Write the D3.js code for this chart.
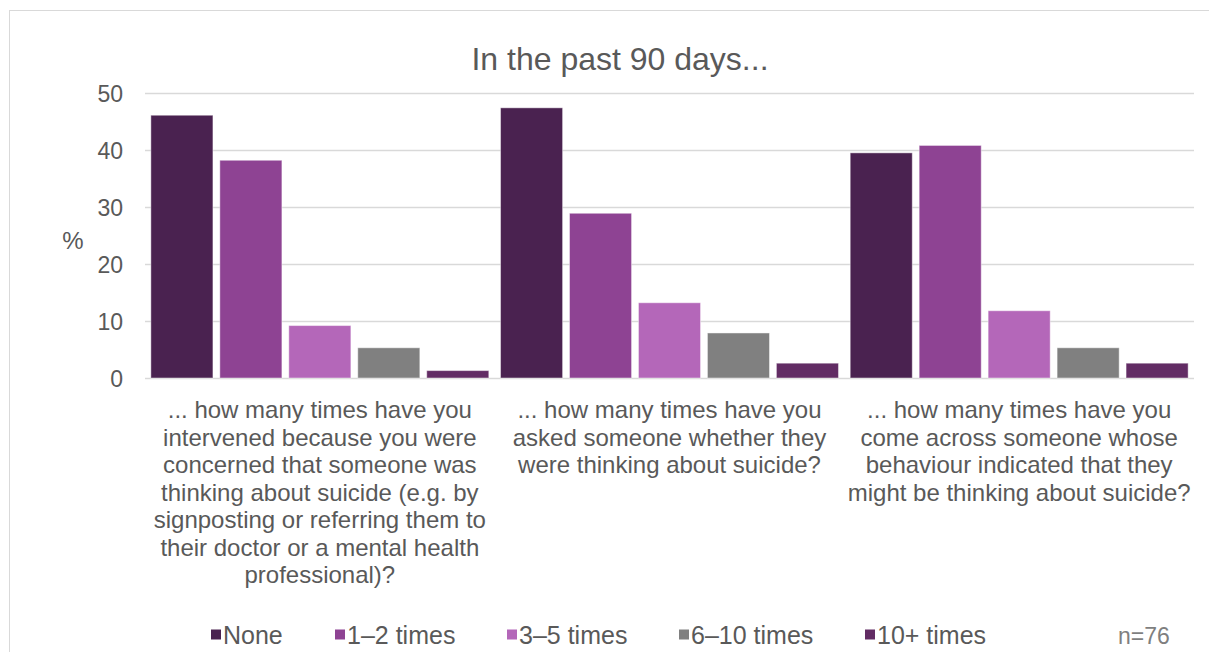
<!DOCTYPE html>
<html>
<head>
<meta charset="utf-8">
<script src="https://cdn.jsdelivr.net/npm/d3@7"></script>
<style>
  html, body { margin: 0; padding: 0; background: #fff; }
  svg { display: block; }
  text { font-family: "Liberation Sans", Arial, sans-serif; fill: #595959; }
</style>
</head>
<body>
<svg id="chart" width="1209" height="652"></svg>
<script>
// Survey questions (x categories), each split into the lines shown under the axis
const questions = ["intervened", "asked", "came across"];
const questionLines = [
  ["... how many times have you", "intervened because you were", "concerned that someone was",
   "thinking about suicide (e.g. by", "signposting or referring them to",
   "their doctor or a mental health", "professional)?"],
  ["... how many times have you", "asked someone whether they", "were thinking about suicide?"],
  ["... how many times have you", "come across someone whose", "behaviour indicated that they",
   "might be thinking about suicide?"]
];

// Response frequency series
const series = ["None", "1–2 times", "3–5 times", "6–10 times", "10+ times"];
const seriesColors = ["#4a2250", "#8e4393", "#b467b9", "#808080", "#622c64"];

// Percentage of respondents (n=76) per question, one array per series
const valNone   = [46.1, 47.4, 39.5];
const valOneTwo = [38.2, 28.9, 40.8];
const valThree  = [9.2, 13.2, 11.8];
const valSix    = [5.3, 7.9, 5.3];
const valTen    = [1.3, 2.6, 2.6];
const seriesValues = [valNone, valOneTwo, valThree, valSix, valTen];

const yTicks = [0, 10, 20, 30, 40, 50];
const titleText = "In the past 90 days...";
const yLabel = "%";
const noteText = "n=76";

const svg = d3.select("#chart");

function label(sel, x, y, txt, size, anchor) {
  return sel.append("text")
    .attr("x", x).attr("y", y)
    .attr("text-anchor", anchor || "middle")
    .style("font-size", size + "px")
    .text(txt);
}

// outer frame
svg.append("rect")
  .attr("x", 9.5).attr("y", 10.5)
  .attr("width", 1220).attr("height", 660)
  .attr("fill", "none").attr("stroke", "#d9d9d9").attr("stroke-width", 1);

const plot = { left: 145, right: 1194, top: 93, bottom: 378 };

const x0 = d3.scaleBand().domain(questions).range([plot.left, plot.right]).padding(0);
const x1 = d3.scaleBand().domain(series).range([0, x0.bandwidth()])
  .paddingInner(0.1).paddingOuter(0.085);
const y = d3.scaleLinear().domain([0, 50]).range([plot.bottom, plot.top]);

// gridlines and value axis
const yAxis = d3.axisLeft(y).tickValues(yTicks)
  .tickSize(-(plot.right - plot.left)).tickPadding(22).tickFormat(d3.format("d"));
const gy = svg.append("g").attr("transform", `translate(${plot.left},0)`).call(yAxis);
gy.select(".domain").remove();
gy.selectAll(".tick line").attr("stroke", "#d9d9d9").attr("stroke-width", 1.3);
gy.selectAll(".tick text")
  .attr("x", -22).attr("dy", null).attr("y", 8)
  .style("font-size", "23px").style("font-family", "'Liberation Sans', Arial, sans-serif")
  .attr("fill", "#595959");

// bars
const groups = svg.append("g").selectAll("g")
  .data(questions).join("g")
  .attr("transform", d => `translate(${x0(d)},0)`);

groups.selectAll("rect")
  .data((q, qi) => series.map((s, si) => ({ s, si, v: seriesValues[si][qi] })))
  .join("rect")
  .attr("x", d => x1(d.s))
  .attr("width", x1.bandwidth())
  .attr("y", d => y(d.v))
  .attr("height", d => y(0) - y(d.v))
  .attr("fill", d => seriesColors[d.si])
  .attr("stroke", "rgba(255,255,255,0.45)")
  .attr("stroke-width", 1);

// category labels
questions.forEach((q, qi) => {
  const cx = x0(q) + x0.bandwidth() / 2;
  questionLines[qi].forEach((line, li) => {
    label(svg, cx, 418 + li * 27.5, line, 24);
  });
});

// title and axis label
label(svg, 620, 70, titleText, 32);
label(svg, 73, 249, yLabel, 24);

// legend
const legendX = [211, 335, 507, 679, 865];
const legend = svg.append("g");
series.forEach((s, i) => {
  legend.append("rect")
    .attr("x", legendX[i]).attr("y", 629.5)
    .attr("width", 10).attr("height", 10)
    .attr("fill", seriesColors[i]);
  label(legend, legendX[i] + 12, 644, s, 25, "start");
});

label(svg, 1118, 644, noteText, 23, "start").style("fill", "#7f7f7f");
</script>
</body>
</html>
